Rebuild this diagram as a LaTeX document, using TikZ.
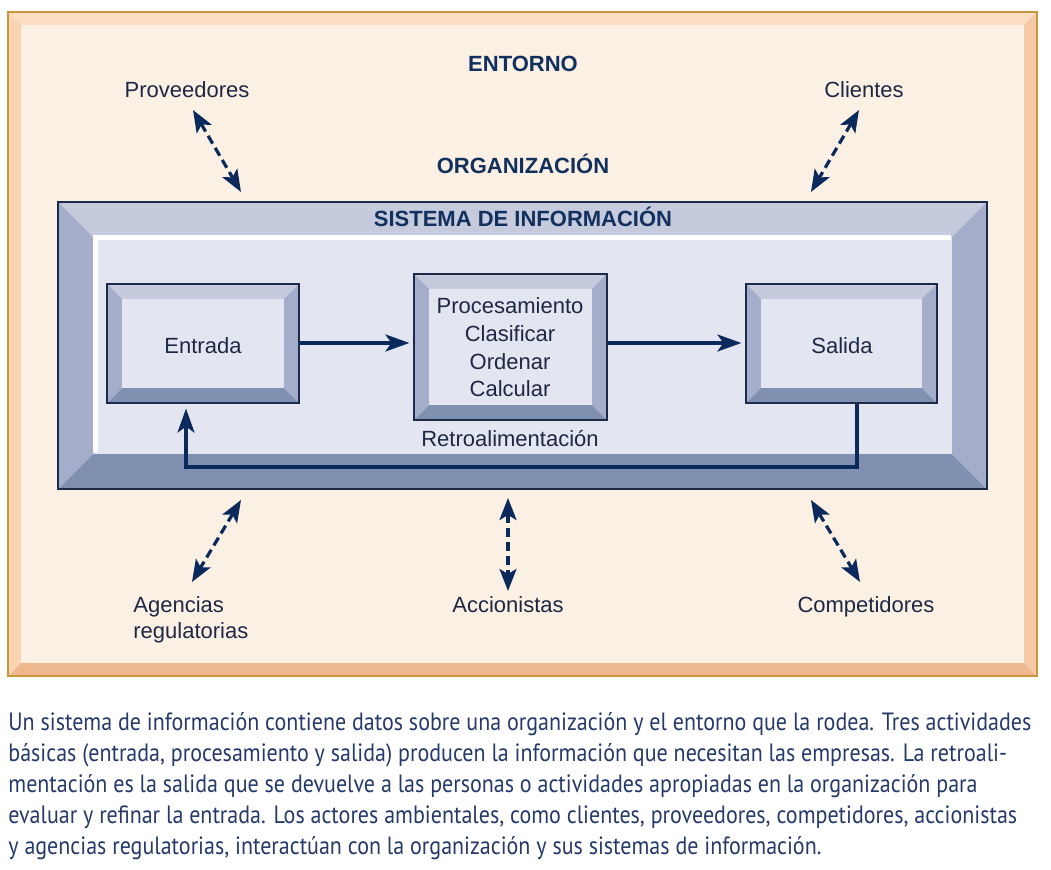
\documentclass[tikz,border=0pt]{standalone}
\usepackage{fontspec}
\setmainfont{Liberation Sans}
\newfontfamily\capfont[FakeStretch=0.88]{PT Sans}
\usetikzlibrary{arrows.meta,calc,fit}
\definecolor{navy}{HTML}{0B2A5B}
\definecolor{labc}{HTML}{1E2744}
\definecolor{titc}{HTML}{12305E}
\definecolor{capc}{HTML}{253A6A}
\definecolor{peachT}{HTML}{FCDDC2}
\definecolor{peachL}{HTML}{FAD3B3}
\definecolor{peachR}{HTML}{F4C9A6}
\definecolor{peachB}{HTML}{EFB98F}
\definecolor{peachD}{HTML}{C8963C}
\definecolor{peachF}{HTML}{FBF0E4}
\definecolor{blueT}{HTML}{C5CADD}
\definecolor{blueL}{HTML}{A4AECA}
\definecolor{blueR}{HTML}{A4AECA}
\definecolor{blueB}{HTML}{7F90B1}
\definecolor{blueD}{HTML}{1C2A4A}
\definecolor{blueF}{HTML}{E3E6F0}
\newcommand\bevelbox[8]{%
 \fill[#8T] (#2,#3) -- (#4,#3) -- ($(#4,#3)+(-#6,#6)$) -- ($(#2,#3)+(#6,#6)$) -- cycle;
 \fill[#8B] (#2,#5) -- (#4,#5) -- ($(#4,#5)+(-#6,-#6)$) -- ($(#2,#5)+(#6,-#6)$) -- cycle;
 \fill[#8L] (#2,#3) -- ($(#2,#3)+(#6,#6)$) -- ($(#2,#5)+(#6,-#6)$) -- (#2,#5) -- cycle;
 \fill[#8R] (#4,#3) -- ($(#4,#3)+(-#6,#6)$) -- ($(#4,#5)+(-#6,-#6)$) -- (#4,#5) -- cycle;
 \fill[#7] ($(#2,#3)+(#6,#6)$) rectangle ($(#4,#5)+(-#6,-#6)$);
 \node[fit={(#2,#3)(#4,#5)}, inner sep=0pt, draw=#8D, line width=0.6pt] (#1) {};
}
\tikzset{
 lab/.style={text=labc, font=\fontsize{11}{13}\selectfont, inner sep=0pt, anchor=base},
 tit/.style={text=titc, font=\fontsize{11}{13}\selectfont\bfseries, inner sep=0pt, anchor=base},
 captext/.style={text=capc, font=\capfont\fontsize{12.5}{15.5}\selectfont, inner sep=0pt, anchor=base west},
 arr/.style={draw=navy, line width=1.6pt, -{Stealth[length=12pt,width=8.5pt,inset=3pt]}},
 darr/.style={draw=navy, line width=1.6pt, dash pattern=on 4.5pt off 2.5pt,
   {Stealth[length=11pt,width=8.5pt,inset=2.5pt]}-{Stealth[length=11pt,width=8.5pt,inset=2.5pt]}}
}
\begin{document}
\begin{tikzpicture}[x=0.5pt,y=-0.5pt]
\useasboundingbox (0,0) rectangle (1051,870);
\fill[white] (0,0) rectangle (1051,870);
% environment frame
\bevelbox{env}{8}{12}{1037}{676}{13}{peachF}{peach}
% system frame
\bevelbox{sis}{58}{202}{987}{489}{35}{blueF}{blue}
\fill[white] (93,235) rectangle (951,240);
\fill[white] (93,235) rectangle (98,452);
% boxes
\bevelbox{entrada}{107}{284}{299}{403}{15}{blueF}{blue}
\bevelbox{proc}{414}{274}{607}{420}{15}{blueF}{blue}
\bevelbox{salida}{746}{284}{937}{403}{15}{blueF}{blue}
% titles
\node[tit] (tent) at (523,72) {ENTORNO};
\node[tit] (torg) at (523,174) {ORGANIZACIÓN};
\node[tit] (tsis) at (523,227) {SISTEMA DE INFORMACIÓN};
% box texts
\node[lab] (tentrada) at (203,354) {Entrada};
\node[lab] (tproc1) at (510,314) {Procesamiento};
\node[lab] (tproc2) at (510,342) {Clasificar};
\node[lab] (tproc3) at (510,370) {Ordenar};
\node[lab] (tproc4) at (510,397) {Calcular};
\node[lab] (tsalida) at (842,354) {Salida};
\node[lab] (tretro) at (510,447) {Retroalimentación};
% environment labels
\node[lab] (prov) at (187,98) {Proveedores};
\node[lab] (cli) at (864,98) {Clientes};
\node[lab,anchor=base west] (agen1) at (133,613) {Agencias};
\node[lab,anchor=base west] (agen2) at (133,639) {regulatorias};
\node[lab] (acc) at (508,613) {Accionistas};
\node[lab] (comp) at (866,613) {Competidores};
% flow arrows
\draw[arr, shorten >=2pt] (entrada.east |- 0,343) -- (proc.west |- 0,343);
\draw[arr, shorten >=2pt] (proc.east |- 0,343) -- (salida.west |- 0,343);
\coordinate (fb1) at (857,467);
\coordinate (fb2) at (186,467);
\draw[arr, shorten >=2.5pt] (salida.south -| fb1) -- (fb1) -- (fb2) -- (entrada.south -| fb2);
% dashed interaction arrows
\coordinate (p1) at (193,110); \coordinate (p2) at (241,192);
\coordinate (c1) at (859,110); \coordinate (c2) at (811,192);
\coordinate (a1) at (241,500); \coordinate (a2) at (192,582);
\coordinate (s1) at (508,498); \coordinate (s2) at (508,591);
\coordinate (k1) at (811,500); \coordinate (k2) at (860,582);
\draw[darr] (p1) -- (p2);
\draw[darr] (c1) -- (c2);
\draw[darr] (a1) -- (a2);
\draw[darr] (s1) -- (s2);
\draw[darr] (k1) -- (k2);
% caption
\node[captext] (l1) at (8,731) {Un sistema de información contiene datos sobre una organización y el entorno que la rodea. Tres actividades};
\node[captext] (l2) at (8,762) {básicas (entrada, procesamiento y salida) producen la información que necesitan las empresas. La retroali-};
\node[captext] (l3) at (8,793) {mentación es la salida que se devuelve a las personas o actividades apropiadas en la organización para};
\node[captext] (l4) at (8,824) {evaluar y refinar la entrada. Los actores ambientales, como clientes, proveedores, competidores, accionistas};
\node[captext] (l5) at (8,855) {y agencias regulatorias, interactúan con la organización y sus sistemas de información.};
\end{tikzpicture}
\end{document}
